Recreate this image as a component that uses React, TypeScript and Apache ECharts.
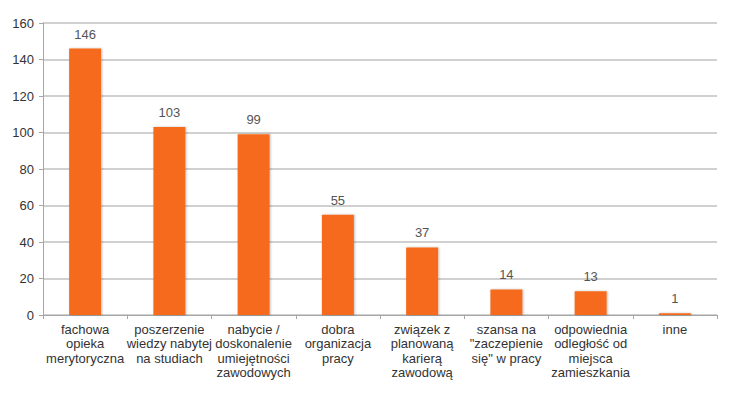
import React, { useEffect, useRef } from "react";
import * as echarts from "echarts";

const categories = [
  "fachowa\nopieka\nmerytoryczna",
  "poszerzenie\nwiedzy nabytej\nna studiach",
  "nabycie /\ndoskonalenie\numiejętności\nzawodowych",
  "dobra\norganizacja\npracy",
  "związek z\nplanowaną\nkarierą\nzawodową",
  "szansa na\n\"zaczepienie\nsię\" w pracy",
  "odpowiednia\nodległość od\nmiejsca\nzamieszkania",
  "inne",
];
const values = [146, 103, 99, 55, 37, 14, 13, 1];
const yTicks = { min: 0, max: 160, interval: 20 };

export default function App() {
  const ref = useRef<HTMLDivElement>(null);
  useEffect(() => {
    if (!ref.current) return;
    const chart = echarts.init(ref.current, undefined, { renderer: "svg" });
    chart.setOption({
      animation: false,
      backgroundColor: "#ffffff",
      textStyle: { fontFamily: "Liberation Sans, Arial, sans-serif" },
      grid: { left: 43, right: 17, top: 23, bottom: 80, containLabel: false },
      xAxis: {
        type: "category",
        data: categories,
        axisLine: { lineStyle: { color: "#a6a6a6", width: 1 } },
        axisTick: { show: true, length: 4, lineStyle: { color: "#a6a6a6" } },
        axisLabel: {
          interval: 0,
          color: "#333333",
          fontSize: 13,
          lineHeight: 14.5,
          margin: 7,
          align: "center",
        },
      },
      yAxis: {
        type: "value",
        min: yTicks.min,
        max: yTicks.max,
        interval: yTicks.interval,
        axisLine: { show: true, lineStyle: { color: "#a6a6a6" } },
        axisTick: { show: true, length: 4, lineStyle: { color: "#a6a6a6" } },
        axisLabel: { color: "#333333", fontSize: 13, margin: 9 },
        splitLine: { lineStyle: { color: "#c0c0c0", width: 1.5 } },
      },
      series: [
        {
          type: "bar",
          data: values,
          barWidth: 32,
          itemStyle: {
            color: "#f56b1a",
            shadowColor: "rgba(0,0,0,0.25)",
            shadowBlur: 2,
            shadowOffsetX: 1,
            shadowOffsetY: 0,
          },
          label: {
            show: true,
            position: "top",
            distance: 8,
            color: "#555555",
            fontSize: 13,
          },
        },
      ],
    });
    return () => chart.dispose();
  }, []);
  return <div ref={ref} style={{ width: 734, height: 395, margin: -8 }} />;
}
